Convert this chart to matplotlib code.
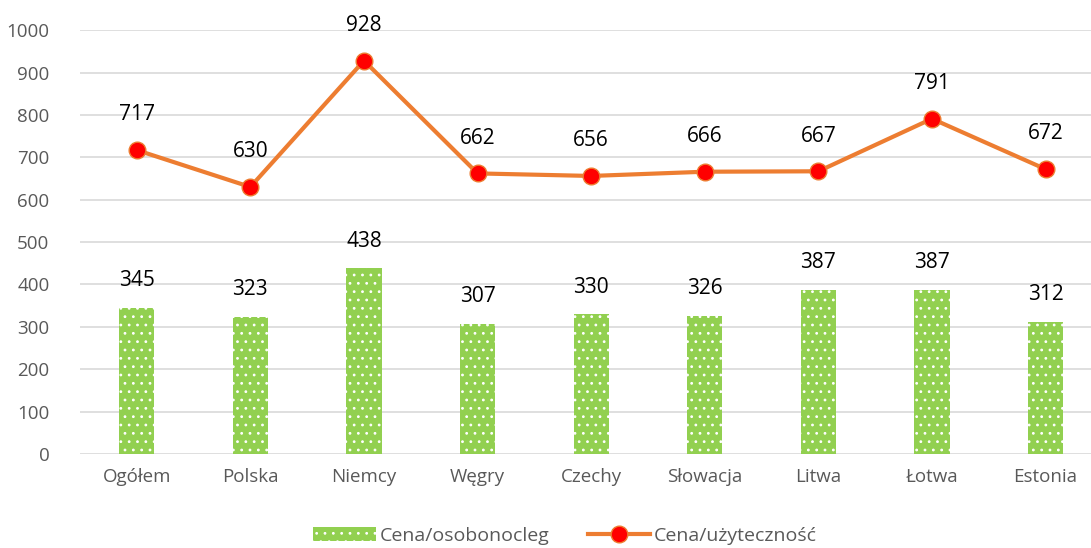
import numpy as np
import matplotlib.pyplot as plt

plt.rcParams['font.family'] = ['Open Sans', 'DejaVu Sans']
plt.rcParams['hatch.color'] = 'white'
plt.rcParams['hatch.linewidth'] = 0.8

categories = ['Ogółem', 'Polska', 'Niemcy', 'Węgry', 'Czechy', 'Słowacja', 'Litwa', 'Łotwa', 'Estonia']
osobonocleg = [345, 323, 438, 307, 330, 326, 387, 387, 312]
uzytecznosc = [717, 630, 928, 662, 656, 666, 667, 791, 672]

fig = plt.figure(figsize=(10.91, 5.48), dpi=100)
ax = fig.add_axes([0.0733, 0.1715, 0.9267, 0.7735])
x = np.arange(len(categories))

bars = ax.bar(x, osobonocleg, width=0.31, color='#92D050', edgecolor='white',
              hatch='..', linewidth=0, label='Cena/osobonocleg', zorder=2)
line, = ax.plot(x, uzytecznosc, color='#ED7D31', lw=3, marker='o', ms=12,
                mfc='red', mec='#ED7D31', mew=1, label='Cena/użyteczność', zorder=3)

for xi, v in zip(x, osobonocleg):
    ax.text(xi, v + 64, str(v), ha='center', va='center', fontsize=15, color='black')
for xi, v in zip(x, uzytecznosc):
    ax.text(xi, v + 83, str(v), ha='center', va='center', fontsize=15, color='black')

ax.set_xlim(-0.5, 8.4)
ax.set_ylim(0, 1000)
ax.set_yticks(range(0, 1001, 100))
ax.set_xticks(x)
ax.set_xticklabels(categories)
ax.tick_params(axis='both', length=0, labelsize=13.5, colors='#595959', pad=10)
ax.tick_params(axis='y', pad=22)
ax.grid(axis='y', color='#D9D9D9', lw=1.2, zorder=0)
for s in ax.spines.values():
    s.set_visible(False)

ax.legend([bars, line], ['Cena/osobonocleg', 'Cena/użyteczność'],
          loc='upper center', bbox_to_anchor=(0.48, -0.13), ncol=2, frameon=False,
          fontsize=14, labelcolor='#595959', handlelength=3.2, columnspacing=2.0,
          handletextpad=0.2)

fig.savefig('out.png', dpi=100)
